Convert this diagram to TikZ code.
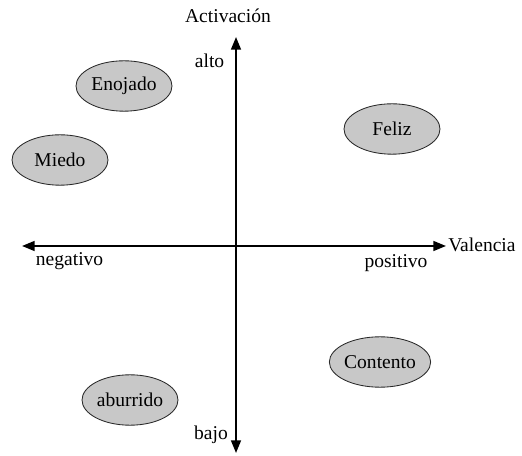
\documentclass[tikz,border=0pt]{standalone}
\usepackage{fontspec}
\setmainfont{Liberation Serif}
\usepackage{xcolor}
\usepackage{tikz}
\usetikzlibrary{arrows.meta,positioning,shapes.geometric}
\definecolor{emofill}{RGB}{200,200,200}
\definecolor{emoline}{RGB}{40,40,40}
\tikzset{
  emotion/.style={ellipse, draw=emoline, fill=emofill, line width=0.6pt, minimum width=2.4cm, minimum height=1.26cm, inner sep=0pt},
  axisline/.style={line width=1.4pt, {Triangle[length=9pt,width=7pt]}-{Triangle[length=9pt,width=7pt]}},
  lbl/.style={inner sep=0pt}
}

\begin{document}
\begin{tikzpicture}[font=\fontsize{13.9}{16}\selectfont]
\useasboundingbox (0,0) rectangle (13.05,11.375);
\coordinate (top) at (5.9,10.45);
\coordinate (bottom) at (5.9,0.05);
\coordinate (left) at (0.55,5.225);
\coordinate (right) at (11.15,5.225);
\draw[axisline] (bottom) -- (top);
\draw[axisline] (left) -- (right);
\node[lbl] (activacion) at (5.7,10.99) {Activación};
\node[lbl] (alto) at (5.24,9.85) {alto};
\node[lbl] (bajo) at (5.275,0.5) {bajo};
\node[lbl, anchor=west] (valencia) at (11.2,5.25) {Valencia};
\node[lbl] (negativo) at (1.74,4.85) {negativo};
\node[lbl] (positivo) at (9.9,4.8) {positivo};
\node[emotion] (enojado) at (3.1,9.225) {Enojado};
\node[emotion] (miedo) at (1.5,7.375) {Miedo};
\node[emotion] (feliz) at (9.8,8.15) {Feliz};
\node[emotion] (aburrido) at (3.25,1.375) {aburrido};
\node[emotion] (contento) at (9.5,2.325) {Contento};
\end{tikzpicture}
\end{document}
